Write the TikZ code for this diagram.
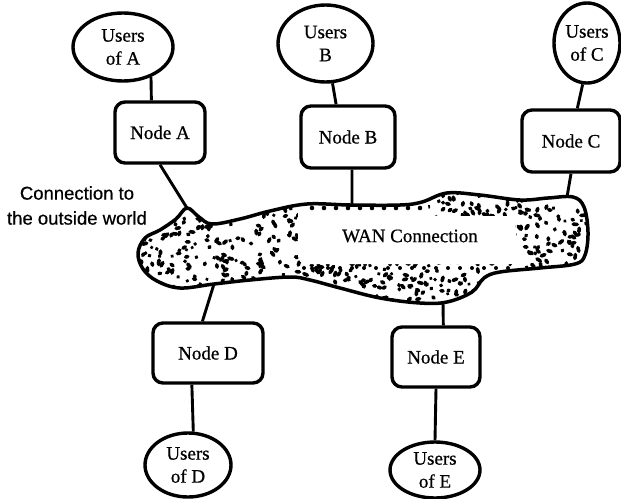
\documentclass[tikz,border=0pt]{standalone}
\usepackage{fontspec}
\setmainfont{Liberation Serif}[FakeBold=0.7]
\newfontfamily\labelsans{Liberation Sans}[FakeBold=0.5]
\usetikzlibrary{shapes.geometric}
\begin{document}
\begin{tikzpicture}[x=1pt,y=-1pt,
  users/.style={ellipse, draw, line width=3.4pt, inner sep=0pt, align=center,
    font=\fontsize{19}{23}\selectfont},
  nodebox/.style={rectangle, rounded corners=10pt, draw, line width=3.4pt, inner sep=0pt,
    font=\fontsize{19}{22}\selectfont},
  link/.style={line width=2.9pt},
  dotmark/.style={line width=3.6pt, line cap=round},
  blobline/.style={line width=3.5pt, line join=round},
]
\useasboundingbox (0,0) rectangle (621,498);

% ---- WAN cloud: stipple ----
\begin{scope}
  \clip plot[smooth cycle, tension=0.6] coordinates {
    (187,208) (199,217) (212,224) (240,219) (270,211) (307,204) (350,205) (400,205)
    (422,202) (447,193) (480,195) (520,200) (548,198) (573,197) (584,207) (588,232)
    (585,255) (575,264) (540,268) (500,272) (484,278) (472,292) (447,302) (420,303)
    (380,298) (340,288) (310,280) (290,277) (250,280) (214,284) (180,288) (157,281)
    (143,269) (138,253) (145,238) (160,230) (176,219)};
  \pgfmathsetseed{12}
  \foreach \i in {1,...,800}{
    \pgfmathsetmacro\px{135+455*rnd}
    \pgfmathsetmacro\py{190+115*rnd}
    \pgfmathsetmacro\pa{360*rnd}
    \pgfmathsetmacro\pl{4*rnd}
    \draw[dotmark] (\px,\py) -- ++(\pa:\pl);
  }
  \fill[white, rounded corners=8pt] (298,196) -- (426,196) -- (430,216) -- (515,216)
    -- (518,264) -- (298,264) -- cycle;
  \foreach \sx in {312,324,...,420}{
    \fill (\sx,208) circle (2.3pt);
  }
  \foreach \sx in {304,316,...,512}{
    \fill (\sx,268) circle (2pt);
  }
\end{scope}
% ---- WAN cloud: outline ----
\draw[blobline] plot[smooth cycle, tension=0.6] coordinates {
    (187,208) (199,217) (212,224) (240,219) (270,211) (307,204) (350,205) (400,205)
    (422,202) (447,193) (480,195) (520,200) (548,198) (573,197) (584,207) (588,232)
    (585,255) (575,264) (540,268) (500,272) (484,278) (472,292) (447,302) (420,303)
    (380,298) (340,288) (310,280) (290,277) (250,280) (214,284) (180,288) (157,281)
    (143,269) (138,253) (145,238) (160,230) (176,219)};
\node[font=\fontsize{19}{22}\selectfont] (wan) at (410,236) {WAN Connection};

\coordinate (wA) at (187,208);
\coordinate (wB) at (352,205);
\coordinate (wC) at (567,197);
\coordinate (wD) at (214,284);
\coordinate (wE) at (443,302);

% ---- users ----
\node[users, minimum width=100pt, minimum height=68pt] (UA) at (123,47) {Users\\of A};
\node[users, minimum width=95pt, minimum height=77pt] (UB) at (325.5,43.5) {Users\\B};
\node[users, minimum width=66pt, minimum height=80pt] (UC) at (587,43) {Users\\of C};
\node[users, minimum width=86pt, minimum height=64pt] (UD) at (188,465) {Users\\of D};
\node[users, minimum width=90pt, minimum height=56pt] (UE) at (435,470) {Users\\of E};

% ---- nodes ----
\node[nodebox, minimum width=90pt, minimum height=61pt] (NA) at (160,132.5) {Node A};
\node[nodebox, minimum width=94pt, minimum height=62pt] (NB) at (348,137) {Node B};
\node[nodebox, minimum width=98pt, minimum height=62pt] (NC) at (571,141) {Node C};
\node[nodebox, minimum width=110pt, minimum height=60pt] (ND) at (208,353) {Node D};
\node[nodebox, minimum width=88pt, minimum height=60pt] (NE) at (436,357) {Node E};

% ---- outside label ----
\node[font=\labelsans\fontsize{18.5}{25}\selectfont, align=center] (out) at (77,205.5)
  {Connection to\\the outside world};

% ---- connectors ----
\draw[link] (UA.-47) -- (NA.105);
\draw[link] (UB.-80) -- (NB.110);
\draw[link] (UC.-96) -- (NC.79);
\draw[link] (NA.south) -- (wA);
\draw[link] (NB.-83) -- (wB);
\draw[link] (NC.south) -- (wC);
\draw[link] (wD) -- (ND.100);
\draw[link] (wE) -- (NE.77);
\draw[link] (ND.-117) -- (UD.81);
\draw[link] (NE.south) -- (UE.north);
\end{tikzpicture}
\end{document}
